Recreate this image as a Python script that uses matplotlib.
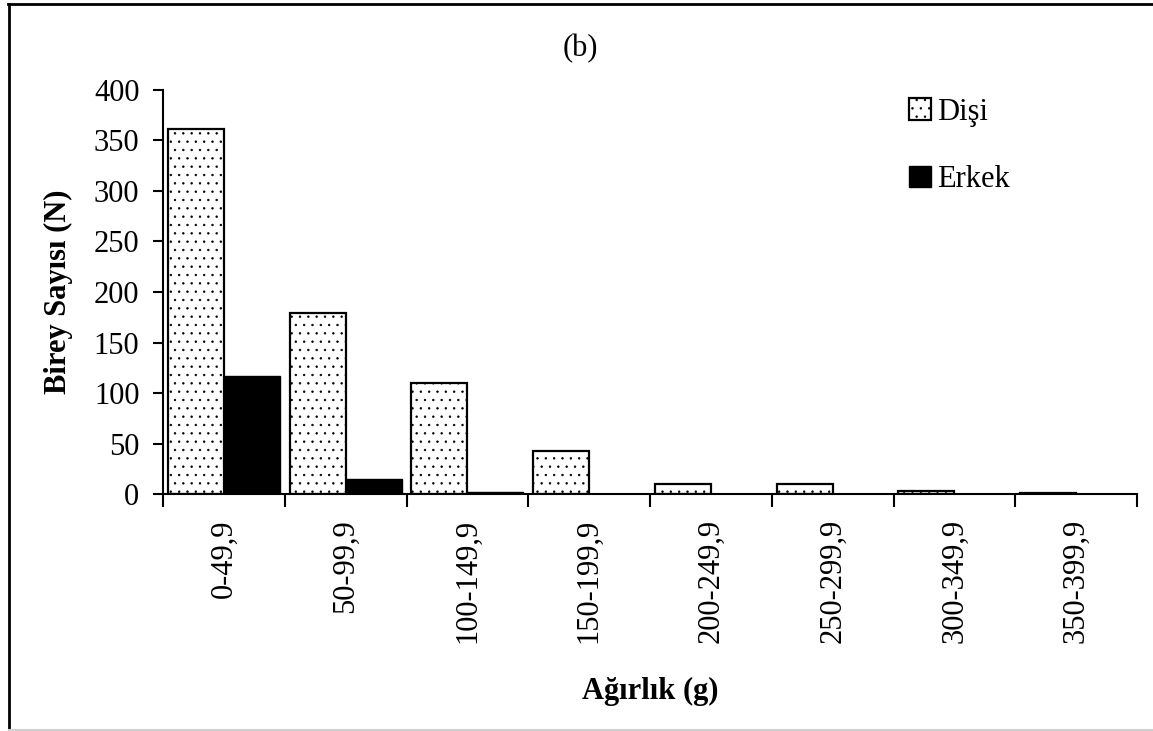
#!/usr/bin/env python3

"""weight class histogram of females / males, panel (b)"""

import numpy as np
import matplotlib
matplotlib.use('Agg')
import matplotlib.pyplot as plt
from matplotlib.lines import Line2D

#data
classes = ['0-49,9', '50-99,9', '100-149,9', '150-199,9',
           '200-249,9', '250-299,9', '300-349,9', '350-399,9']
disi = [361, 179, 110, 43, 10, 10, 3, 1]
erkek = [117, 15, 2, 0, 0, 0, 0, 0]
yticks = [0, 50, 100, 150, 200, 250, 300, 350, 400]

plt.rcParams['font.family'] = ['Liberation Serif', 'DejaVu Serif']
plt.rcParams['hatch.linewidth'] = 0.5
fs = 22

fig = plt.figure(figsize=(11.53, 7.31), dpi=100)
ax = fig.add_axes([0.1414, 0.3242, 0.8448, 0.5527])

x = np.arange(len(classes))
w = 0.46
ax.bar(x - w / 2, disi, w, color='white', edgecolor='black',
       linewidth=1.6, hatch='..', label='Dişi')
ax.bar(x + w / 2, erkek, w, color='black', edgecolor='black',
       linewidth=1.0, label='Erkek')

#axes
ax.set_xlim(-0.5, len(classes) - 0.5)
ax.set_ylim(0, 400)
ax.set_yticks(yticks)
ax.spines['top'].set_visible(False)
ax.spines['right'].set_visible(False)
ax.spines['left'].set_linewidth(1.5)
ax.spines['bottom'].set_linewidth(1.5)
ax.tick_params(axis='y', direction='out', length=7, width=1.5,
               labelsize=fs, pad=10)

#ticks at class boundaries, labels at class centres
ax.set_xticks(np.arange(len(classes) + 1) - 0.5)
ax.set_xticklabels([])
ax.tick_params(axis='x', which='major', direction='out', length=9, width=1.5)
ax.set_xticks(x, minor=True)
ax.set_xticklabels(classes, minor=True, rotation=90, fontsize=fs)
ax.tick_params(axis='x', which='minor', length=0, pad=18)

#labels
fig.text(58 / 1153, 1 - 292 / 731, 'Birey Sayısı (N)', rotation=90,
         ha='center', va='center', fontsize=fs, fontweight='bold')
fig.text(650 / 1153, 1 - 691 / 731, 'Ağırlık (g)',
         ha='center', va='center', fontsize=fs, fontweight='bold')
fig.text(580 / 1153, 1 - 49 / 731, '(b)',
         ha='center', va='center', fontsize=fs)

#legend
ax.legend(loc='upper left', bbox_to_anchor=(0.766, 0.98), frameon=False,
          fontsize=fs, handlelength=0.72, handleheight=0.72,
          handletextpad=0.2, labelspacing=1.25, borderpad=0,
          borderaxespad=0)

#outer frame (cropped picture: top, left and a faint bottom line)
fig.add_artist(Line2D([8 / 1153, 1], [1 - 4 / 731, 1 - 4 / 731],
                      transform=fig.transFigure, color='black', lw=2))
fig.add_artist(Line2D([9 / 1153, 9 / 1153], [0, 1 - 4 / 731],
                      transform=fig.transFigure, color='black', lw=2))
fig.add_artist(Line2D([9 / 1153, 1], [1.5 / 731, 1.5 / 731],
                      transform=fig.transFigure, color='#d0d0d0', lw=1.5))

fig.savefig('out.png', dpi=100)
